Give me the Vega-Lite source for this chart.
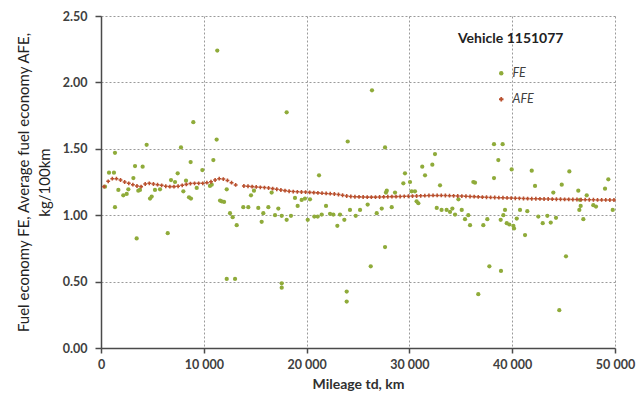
{
 "$schema": "https://vega.github.io/schema/vega-lite/v6.json",
 "width": 514, "height": 332,
 "autosize": {"type": "none"},
 "padding": {"left": 101, "top": 16, "right": 24, "bottom": 59},
 "background": "white",
 "config": {"font": "Lato", "view": {"stroke": null}},
 "data": {"values": [
{"s":"FE","km":8980,"v":1.70},{"s":"FE","km":11250,"v":1.57},{"s":"FE","km":4440,"v":1.53},{"s":"FE","km":7780,"v":1.51},{"s":"FE","km":1360,"v":1.47},{"s":"FE","km":3310,"v":1.37},{"s":"FE","km":4050,"v":1.365},{"s":"FE","km":8720,"v":1.40},{"s":"FE","km":10930,"v":1.415},{"s":"FE","km":9860,"v":1.34},{"s":"FE","km":780,"v":1.32},{"s":"FE","km":1260,"v":1.32},{"s":"FE","km":7460,"v":1.315},{"s":"FE","km":3150,"v":1.28},{"s":"FE","km":6810,"v":1.265},{"s":"FE","km":7200,"v":1.25},{"s":"FE","km":8270,"v":1.26},{"s":"FE","km":390,"v":1.215},{"s":"FE","km":1690,"v":1.19},{"s":"FE","km":2660,"v":1.195},{"s":"FE","km":2170,"v":1.15},{"s":"FE","km":2500,"v":1.16},{"s":"FE","km":3630,"v":1.185},{"s":"FE","km":5250,"v":1.19},{"s":"FE","km":4930,"v":1.14},{"s":"FE","km":4770,"v":1.125},{"s":"FE","km":8010,"v":1.18},{"s":"FE","km":8560,"v":1.135},{"s":"FE","km":8750,"v":1.125},{"s":"FE","km":9310,"v":1.205},{"s":"FE","km":11740,"v":1.105},{"s":"FE","km":11970,"v":1.10},{"s":"FE","km":11580,"v":1.11},{"s":"FE","km":1360,"v":1.06},{"s":"FE","km":3470,"v":0.825},{"s":"FE","km":6490,"v":0.865},{"s":"FE","km":10770,"v":1.23},{"s":"FE","km":5740,"v":1.195},{"s":"FE","km":10600,"v":1.22},{"s":"FE","km":12230,"v":1.195},{"s":"FE","km":12550,"v":1.015},{"s":"FE","km":12810,"v":0.985},{"s":"FE","km":13200,"v":0.925},{"s":"FE","km":12230,"v":0.52},{"s":"FE","km":13040,"v":0.52},{"s":"FE","km":13840,"v":1.06},{"s":"FE","km":14330,"v":1.06},{"s":"FE","km":15300,"v":1.055},{"s":"FE","km":14590,"v":1.15},{"s":"FE","km":14880,"v":1.185},{"s":"FE","km":16280,"v":1.06},{"s":"FE","km":15790,"v":1.015},{"s":"FE","km":15630,"v":0.95},{"s":"FE","km":16600,"v":1.17},{"s":"FE","km":17250,"v":1.05},{"s":"FE","km":16930,"v":1.00},{"s":"FE","km":17580,"v":0.995},{"s":"FE","km":18060,"v":0.965},{"s":"FE","km":18480,"v":0.995},{"s":"FE","km":17580,"v":0.487},{"s":"FE","km":17580,"v":0.454},{"s":"FE","km":18870,"v":1.13},{"s":"FE","km":19130,"v":1.07},{"s":"FE","km":19520,"v":1.115},{"s":"FE","km":19840,"v":1.125},{"s":"FE","km":20330,"v":1.12},{"s":"FE","km":20110,"v":0.965},{"s":"FE","km":20750,"v":0.99},{"s":"FE","km":21080,"v":0.99},{"s":"FE","km":21210,"v":1.30},{"s":"FE","km":21890,"v":1.07},{"s":"FE","km":21470,"v":1.005},{"s":"FE","km":22280,"v":1.01},{"s":"FE","km":22600,"v":1.005},{"s":"FE","km":23250,"v":1.005},{"s":"FE","km":22990,"v":0.92},{"s":"FE","km":23670,"v":0.965},{"s":"FE","km":23900,"v":0.425},{"s":"FE","km":23900,"v":0.35},{"s":"FE","km":24220,"v":1.04},{"s":"FE","km":18060,"v":1.775},{"s":"FE","km":24000,"v":1.555},{"s":"FE","km":27630,"v":1.51},{"s":"FE","km":27630,"v":0.76},{"s":"FE","km":26240,"v":0.615},{"s":"FE","km":25200,"v":1.04},{"s":"FE","km":24780,"v":0.995},{"s":"FE","km":25940,"v":1.08},{"s":"FE","km":26820,"v":1.015},{"s":"FE","km":27310,"v":1.05},{"s":"FE","km":28280,"v":1.06},{"s":"FE","km":27720,"v":1.17},{"s":"FE","km":27800,"v":1.185},{"s":"FE","km":28600,"v":1.17},{"s":"FE","km":29410,"v":1.24},{"s":"FE","km":29570,"v":1.315},{"s":"FE","km":30060,"v":1.25},{"s":"FE","km":30220,"v":1.18},{"s":"FE","km":30540,"v":1.18},{"s":"FE","km":30870,"v":1.09},{"s":"FE","km":31250,"v":1.365},{"s":"FE","km":31520,"v":1.30},{"s":"FE","km":32230,"v":1.38},{"s":"FE","km":32490,"v":1.46},{"s":"FE","km":32980,"v":1.225},{"s":"FE","km":32660,"v":1.055},{"s":"FE","km":33130,"v":1.04},{"s":"FE","km":33620,"v":1.04},{"s":"FE","km":30700,"v":1.105},{"s":"FE","km":36220,"v":1.25},{"s":"FE","km":34180,"v":1.05},{"s":"FE","km":33950,"v":1.025},{"s":"FE","km":34440,"v":1.005},{"s":"FE","km":35090,"v":1.04},{"s":"FE","km":35410,"v":0.97},{"s":"FE","km":35900,"v":0.925},{"s":"FE","km":35730,"v":1.00},{"s":"FE","km":34770,"v":1.12},{"s":"FE","km":38230,"v":1.535},{"s":"FE","km":39070,"v":1.535},{"s":"FE","km":38650,"v":1.415},{"s":"FE","km":39950,"v":1.345},{"s":"FE","km":36380,"v":1.245},{"s":"FE","km":38230,"v":1.28},{"s":"FE","km":41900,"v":1.335},{"s":"FE","km":42220,"v":1.22},{"s":"FE","km":44820,"v":1.23},{"s":"FE","km":45560,"v":1.33},{"s":"FE","km":44000,"v":1.17},{"s":"FE","km":46430,"v":1.185},{"s":"FE","km":47250,"v":1.15},{"s":"FE","km":49030,"v":1.20},{"s":"FE","km":49350,"v":1.27},{"s":"FE","km":46600,"v":1.115},{"s":"FE","km":46660,"v":1.07},{"s":"FE","km":46530,"v":1.04},{"s":"FE","km":47890,"v":1.075},{"s":"FE","km":48150,"v":1.065},{"s":"FE","km":49780,"v":1.04},{"s":"FE","km":46920,"v":0.97},{"s":"FE","km":39300,"v":1.04},{"s":"FE","km":39140,"v":1.00},{"s":"FE","km":40760,"v":1.04},{"s":"FE","km":41470,"v":1.03},{"s":"FE","km":37580,"v":0.97},{"s":"FE","km":37190,"v":0.925},{"s":"FE","km":38880,"v":0.965},{"s":"FE","km":39470,"v":0.94},{"s":"FE","km":39720,"v":0.93},{"s":"FE","km":40110,"v":0.92},{"s":"FE","km":40180,"v":0.90},{"s":"FE","km":40440,"v":0.975},{"s":"FE","km":42540,"v":0.99},{"s":"FE","km":42970,"v":0.94},{"s":"FE","km":43420,"v":0.995},{"s":"FE","km":43750,"v":0.945},{"s":"FE","km":44260,"v":0.98},{"s":"FE","km":41250,"v":0.85},{"s":"FE","km":37780,"v":0.615},{"s":"FE","km":38910,"v":0.58},{"s":"FE","km":45230,"v":0.69},{"s":"FE","km":36700,"v":0.405},{"s":"FE","km":44580,"v":0.285},{"s":"FE","km":11310,"v":2.24},{"s":"FE","km":26360,"v":1.94},{"s":"FE","km":3790,"v":1.19},
{"s":"AFE","km":300,"v":1.215},{"s":"AFE","km":700,"v":1.255},{"s":"AFE","km":1100,"v":1.275},{"s":"AFE","km":1500,"v":1.275},{"s":"AFE","km":1900,"v":1.265},{"s":"AFE","km":2300,"v":1.25},{"s":"AFE","km":2700,"v":1.24},{"s":"AFE","km":3100,"v":1.23},{"s":"AFE","km":3500,"v":1.22},{"s":"AFE","km":3900,"v":1.215},{"s":"AFE","km":4300,"v":1.235},{"s":"AFE","km":4700,"v":1.24},{"s":"AFE","km":5100,"v":1.235},{"s":"AFE","km":5500,"v":1.23},{"s":"AFE","km":5900,"v":1.225},{"s":"AFE","km":6300,"v":1.218},{"s":"AFE","km":6700,"v":1.215},{"s":"AFE","km":7100,"v":1.215},{"s":"AFE","km":7500,"v":1.218},{"s":"AFE","km":7900,"v":1.225},{"s":"AFE","km":8300,"v":1.232},{"s":"AFE","km":8700,"v":1.238},{"s":"AFE","km":9100,"v":1.24},{"s":"AFE","km":9500,"v":1.24},{"s":"AFE","km":9900,"v":1.24},{"s":"AFE","km":10300,"v":1.245},{"s":"AFE","km":10700,"v":1.252},{"s":"AFE","km":11100,"v":1.265},{"s":"AFE","km":11500,"v":1.275},{"s":"AFE","km":11900,"v":1.272},{"s":"AFE","km":12300,"v":1.262},{"s":"AFE","km":12700,"v":1.245},{"s":"AFE","km":13100,"v":1.228},{"s":"AFE","km":13900,"v":1.22},{"s":"AFE","km":14300,"v":1.218},{"s":"AFE","km":14700,"v":1.215},{"s":"AFE","km":15100,"v":1.213},{"s":"AFE","km":15500,"v":1.21},{"s":"AFE","km":15900,"v":1.208},{"s":"AFE","km":16300,"v":1.205},{"s":"AFE","km":16700,"v":1.2},{"s":"AFE","km":17100,"v":1.195},{"s":"AFE","km":17500,"v":1.19},{"s":"AFE","km":17900,"v":1.185},{"s":"AFE","km":18300,"v":1.18},{"s":"AFE","km":18700,"v":1.178},{"s":"AFE","km":19100,"v":1.176},{"s":"AFE","km":19500,"v":1.175},{"s":"AFE","km":19900,"v":1.174},{"s":"AFE","km":20300,"v":1.172},{"s":"AFE","km":20700,"v":1.17},{"s":"AFE","km":21100,"v":1.168},{"s":"AFE","km":21500,"v":1.166},{"s":"AFE","km":21900,"v":1.164},{"s":"AFE","km":22300,"v":1.162},{"s":"AFE","km":22700,"v":1.16},{"s":"AFE","km":23100,"v":1.156},{"s":"AFE","km":23500,"v":1.15},{"s":"AFE","km":23900,"v":1.145},{"s":"AFE","km":24300,"v":1.141},{"s":"AFE","km":24700,"v":1.139},{"s":"AFE","km":25100,"v":1.138},{"s":"AFE","km":25500,"v":1.137},{"s":"AFE","km":25900,"v":1.136},{"s":"AFE","km":26300,"v":1.136},{"s":"AFE","km":26700,"v":1.136},{"s":"AFE","km":27100,"v":1.137},{"s":"AFE","km":27500,"v":1.138},{"s":"AFE","km":27900,"v":1.139},{"s":"AFE","km":28300,"v":1.14},{"s":"AFE","km":28700,"v":1.14},{"s":"AFE","km":29100,"v":1.141},{"s":"AFE","km":29500,"v":1.142},{"s":"AFE","km":29900,"v":1.143},{"s":"AFE","km":30300,"v":1.144},{"s":"AFE","km":30700,"v":1.145},{"s":"AFE","km":31100,"v":1.146},{"s":"AFE","km":31500,"v":1.147},{"s":"AFE","km":31900,"v":1.148},{"s":"AFE","km":32300,"v":1.149},{"s":"AFE","km":32700,"v":1.149},{"s":"AFE","km":33100,"v":1.149},{"s":"AFE","km":33500,"v":1.148},{"s":"AFE","km":33900,"v":1.147},{"s":"AFE","km":34300,"v":1.146},{"s":"AFE","km":34700,"v":1.145},{"s":"AFE","km":35100,"v":1.144},{"s":"AFE","km":35500,"v":1.143},{"s":"AFE","km":35900,"v":1.141},{"s":"AFE","km":36300,"v":1.14},{"s":"AFE","km":36700,"v":1.138},{"s":"AFE","km":37100,"v":1.136},{"s":"AFE","km":37500,"v":1.135},{"s":"AFE","km":37900,"v":1.134},{"s":"AFE","km":38300,"v":1.133},{"s":"AFE","km":38700,"v":1.132},{"s":"AFE","km":39100,"v":1.131},{"s":"AFE","km":39500,"v":1.13},{"s":"AFE","km":39900,"v":1.129},{"s":"AFE","km":40300,"v":1.128},{"s":"AFE","km":40700,"v":1.127},{"s":"AFE","km":41100,"v":1.126},{"s":"AFE","km":41500,"v":1.125},{"s":"AFE","km":41900,"v":1.124},{"s":"AFE","km":42300,"v":1.124},{"s":"AFE","km":42700,"v":1.123},{"s":"AFE","km":43100,"v":1.122},{"s":"AFE","km":43500,"v":1.122},{"s":"AFE","km":43900,"v":1.121},{"s":"AFE","km":44300,"v":1.12},{"s":"AFE","km":44700,"v":1.12},{"s":"AFE","km":45100,"v":1.119},{"s":"AFE","km":45500,"v":1.119},{"s":"AFE","km":45900,"v":1.118},{"s":"AFE","km":46300,"v":1.118},{"s":"AFE","km":46700,"v":1.117},{"s":"AFE","km":47100,"v":1.117},{"s":"AFE","km":47500,"v":1.116},{"s":"AFE","km":47900,"v":1.116},{"s":"AFE","km":48300,"v":1.115},{"s":"AFE","km":48700,"v":1.115},{"s":"AFE","km":49100,"v":1.115},{"s":"AFE","km":49500,"v":1.114},{"s":"AFE","km":49900,"v":1.114}
 ]},
 "mark": {"type": "point", "filled": true, "opacity": 1},
 "encoding": {
  "x": {"field": "km", "type": "quantitative",
   "scale": {"domain": [0, 50000], "nice": false, "zero": false},
   "axis": {"values": [0, 10000, 20000, 30000, 40000, 50000],
    "labelExpr": "replace(format(datum.value, ','), ',', ' ')",
    "title": "Mileage td, km", "grid": true, "gridDash": [2, 2], "gridColor": "#9a9a9a",
    "domainColor": "#4a4a4a", "domainWidth": 1.5, "tickColor": "#4a4a4a", "tickWidth": 1.5, "tickSize": 5,
    "labelFlush": false, "labelFontSize": 12.5, "labelFontWeight": "bold", "labelColor": "#404040", "labelPadding": 5,
    "titleFontSize": 14, "titleFontWeight": "bold", "titleColor": "#303030", "titlePadding": 7}},
  "y": {"field": "v", "type": "quantitative",
   "scale": {"domain": [0, 2.5], "nice": false},
   "axis": {"values": [0, 0.5, 1, 1.5, 2, 2.5], "format": ".2f",
    "title": ["Fuel economy FE, Average fuel economy AFE,", "kg/100km"],
    "grid": true, "gridDash": [2, 2], "gridColor": "#9a9a9a",
    "domainColor": "#4a4a4a", "domainWidth": 1.5, "tickColor": "#4a4a4a", "tickWidth": 1.5, "tickSize": 6,
    "labelFontSize": 12.5, "labelFontWeight": "bold", "labelColor": "#404040", "labelPadding": 8,
    "titleFontSize": 15, "titleFontWeight": "normal", "titleColor": "#222222", "titlePadding": 10, "titleLineHeight": 21}},
  "color": {"field": "s", "type": "nominal",
   "scale": {"domain": ["FE", "AFE"], "range": ["#8fab3a", "#b9502e"]},
   "legend": {"title": "Vehicle 1151077", "orient": "none", "legendX": 357, "legendY": 16,
    "titleFontSize": 14, "titleFontWeight": "bold", "titleColor": "#222222", "titlePadding": 21,
    "labelFontStyle": "italic", "labelFontSize": 12.5, "labelColor": "#404040",
    "symbolOffset": 37, "symbolSize": 20, "rowPadding": 13, "labelOffset": 5}},
  "shape": {"field": "s", "type": "nominal",
   "scale": {"domain": ["FE", "AFE"], "range": ["circle", "cross"]}},
  "size": {"condition": {"test": "datum.s === 'FE'", "value": 18}, "value": 15}
 }
}
